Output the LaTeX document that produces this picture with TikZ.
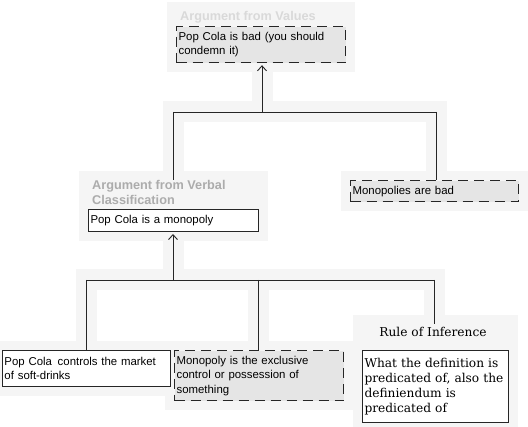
\documentclass[tikz,border=0pt]{standalone}
\usepackage{fontspec}
\setmainfont{Liberation Sans}
\newfontfamily\rulefont{DejaVu Serif}
\usetikzlibrary{arrows.meta,backgrounds,fit}

\begin{document}
\begin{tikzpicture}[x=1pt,y=-1pt,
    font=\fontsize{11.4}{14.5}\selectfont,
    prop/.style={draw=black!85,line width=1pt,anchor=north west,align=left,inner sep=2pt,fill=white},
    assum/.style={prop,fill=gray!20,line width=1.2pt,dash pattern=on 10pt off 6pt},
    argtitle/.style={anchor=north west,align=left,inner sep=0pt,font=\fontsize{12.7}{15}\selectfont\bfseries},
    rulefnt/.style={font=\rulefont\fontsize{12.2}{15}\selectfont},
    link/.style={draw=black!85,line width=0.9pt},
    up/.style={link,shorten >=2pt,-{Straight Barb[length=5pt,width=9pt]}},
    halo/.style={draw=gray!8,line width=21pt},
    haloarea/.style={fill=gray!8,inner sep=9pt}]
    \useasboundingbox (0,0) rectangle (528,427);

    \node[argtitle,text=gray!30] (valt) at (180,11) {Argument from Values};
    \node[assum,text width=165pt,minimum height=36pt] (bad) at (176,26) {Pop Cola is bad (you should\\condemn it)};
    \node[assum,text width=164pt,minimum height=21pt] (mbad) at (350,180) {Monopolies are bad};
    \node[argtitle,text=gray!65] (vct) at (92,180) {Argument from Verbal\\Classification};
    \node[prop,text width=166pt,minimum height=22pt] (mono) at (88,209) {Pop Cola is a monopoly};
    \node[prop,text width=164pt,minimum height=36pt] (ctrl) at (2,350) {Pop Cola\, controls the market\\of soft-drinks};
    \node[assum,text width=165pt,minimum height=50pt] (excl) at (174,350) {Monopoly is the exclusive\\control or possession of\\something};
    \node[rulefnt] (rit) at (433,332) {Rule of Inference};
    \node[prop,rulefnt,text width=142pt,minimum height=72pt] (rule) at (362,350) {What the definition is\\predicated of, also the\\definiendum is\\predicated of};

    \coordinate (j1) at (262,112);
    \coordinate (j1l) at (173,112);
    \coordinate (j1r) at (436,112);
    \coordinate (j2) at (173,280);
    \coordinate (j2l) at (86,280);
    \coordinate (j2m) at (258,280);
    \coordinate (j2r) at (434,280);

    \draw[up] (j1) -- (j1 |- bad.south);
    \draw[link] (j1l) -- (j1r);
    \draw[link] (j1l) -- (j1l |- vct.north);
    \draw[link] (j1r) -- (j1r |- mbad.north);
    \draw[up] (j2) -- (j2 |- mono.south);
    \draw[link] (j2l) -- (j2r);
    \draw[link] (j2l) -- (j2l |- ctrl.north);
    \draw[link] (j2m) -- (j2m |- excl.north);
    \draw[link] (j2r) -- (j2r |- rit.north);

    \begin{scope}[on background layer]
        \fill[white] (0,0) rectangle (528,427);
        \node[haloarea,fit=(valt)(bad)] {};
        \node[haloarea,fit=(mbad)] {};
        \node[haloarea,fit=(vct)(mono)] {};
        \node[haloarea,fit=(ctrl)] {};
        \node[haloarea,fit=(excl)] {};
        \node[haloarea,fit=(rit)(rule)] {};
        \draw[halo] (j1) -- (j1 |- bad.south);
        \draw[halo,line cap=rect] (j1l) -- (j1r);
        \draw[halo] (j1l) -- (j1l |- vct.north);
        \draw[halo] (j1r) -- (j1r |- mbad.north);
        \draw[halo] (j2) -- (j2 |- mono.south);
        \draw[halo,line cap=rect] (j2l) -- (j2r);
        \draw[halo] (j2l) -- (j2l |- ctrl.north);
        \draw[halo] (j2m) -- (j2m |- excl.north);
        \draw[halo] (j2r) -- (j2r |- rit.north);
    \end{scope}
\end{tikzpicture}
\end{document}
